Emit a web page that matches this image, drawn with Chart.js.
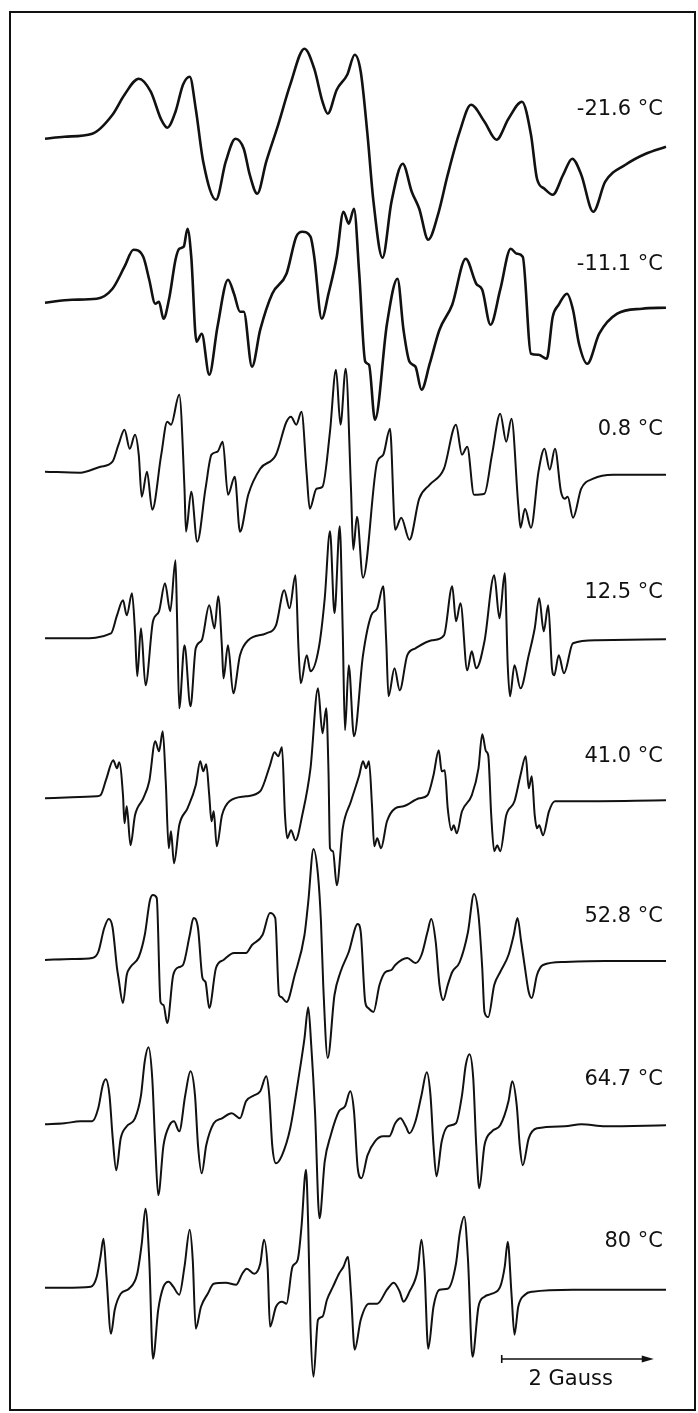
<!DOCTYPE html>
<html>
<head>
<meta charset="utf-8">
<script src="https://cdn.jsdelivr.net/npm/chart.js@4.4.1/dist/chart.umd.min.js"></script>
<style>
  body { margin: 0; background: #fff; }
  #wrap { position: relative; width: 698px; height: 1413px; }
  #frame { position: absolute; left: 9px; top: 11px; width: 687px; height: 1400px; border: 2px solid #111; box-sizing: border-box; }
  canvas { position: absolute; left: 0; top: 0; }
</style>
</head>
<body>
<div id="wrap">
  <div id="frame"></div>
  <canvas id="epr" width="698" height="1413"></canvas>
</div>
<script>
// Temperatures, top trace to bottom trace
const temperatures = ['-21.6 °C', '-11.1 °C', '0.8 °C', '12.5 °C', '41.0 °C', '52.8 °C', '64.7 °C', '80 °C'];

// Spectra: [field offset from sweep start (Gauss), derivative signal (a.u.)]
const spectrumM216 = [[0.00,-1],[0.26,1],[0.63,4],[0.90,23],[1.06,43],[1.25,59],[1.41,46],[1.55,18],[1.63,10],[1.74,26],[1.84,53],[1.93,61],[2.01,29],[2.11,-24],[2.28,-62],[2.41,-24],[2.54,-1],[2.65,-11],[2.73,-37],[2.83,-56],[2.95,-24],[3.11,13],[3.27,53],[3.46,89],[3.59,69],[3.70,36],[3.77,24],[3.89,48],[4.03,63],[4.13,83],[4.21,66],[4.30,3],[4.38,-64],[4.50,-120],[4.62,-64],[4.77,-26],[4.89,-54],[4.99,-71],[5.11,-102],[5.24,-77],[5.37,-37],[5.53,6],[5.68,33],[5.86,16],[6.02,-2],[6.18,19],[6.36,36],[6.48,3],[6.56,-41],[6.66,-51],[6.77,-57],[6.91,-37],[7.03,-21],[7.15,-37],[7.31,-74],[7.47,-44],[7.74,-27],[8.01,-16],[8.28,-9]];

const spectrumM111 = [[0.00,-1],[0.36,2],[0.69,3],[0.90,13],[1.06,35],[1.18,52],[1.31,45],[1.39,22],[1.47,-2],[1.52,0],[1.58,-17],[1.66,5],[1.74,42],[1.79,53],[1.85,55],[1.90,73],[1.95,45],[2.02,-40],[2.09,-32],[2.19,-73],[2.30,-25],[2.44,22],[2.52,8],[2.60,-10],[2.65,-10],[2.76,-65],[2.87,-28],[3.03,8],[3.22,28],[3.35,65],[3.43,70],[3.54,65],[3.59,45],[3.69,-17],[3.78,8],[3.89,45],[3.98,90],[4.05,78],[4.12,93],[4.19,28],[4.27,-60],[4.32,-63],[4.40,-118],[4.56,-22],[4.70,23],[4.78,-28],[4.86,-60],[4.94,-65],[5.02,-88],[5.13,-62],[5.26,-28],[5.43,-3],[5.61,43],[5.75,18],[5.83,12],[5.94,-23],[6.07,12],[6.21,53],[6.29,48],[6.37,45],[6.48,-52],[6.58,-53],[6.69,-57],[6.77,-15],[6.85,-3],[6.96,8],[7.04,-8],[7.12,-42],[7.23,-62],[7.39,-32],[7.63,-12],[7.96,-7],[8.28,-6]];

const spectrumP08 = [[0.00,0],[0.47,-1],[0.74,5],[0.90,10],[0.98,27],[1.06,42],[1.13,23],[1.20,37],[1.25,17],[1.29,-25],[1.36,0],[1.43,-38],[1.55,17],[1.63,50],[1.68,47],[1.79,77],[1.86,-17],[1.88,-60],[1.95,-20],[2.03,-70],[2.14,-17],[2.22,17],[2.30,20],[2.37,30],[2.44,-23],[2.53,-5],[2.60,-60],[2.71,-23],[2.87,3],[3.08,17],[3.22,50],[3.28,55],[3.35,47],[3.42,60],[3.49,-3],[3.53,-37],[3.62,-17],[3.70,-15],[3.80,40],[3.88,102],[3.94,47],[4.01,103],[4.08,-17],[4.11,-78],[4.16,-45],[4.24,-106],[4.43,10],[4.51,17],[4.60,43],[4.67,-58],[4.75,-46],[4.86,-68],[4.99,-27],[5.13,-13],[5.32,3],[5.48,47],[5.56,17],[5.63,25],[5.72,-23],[5.86,-22],[5.96,17],[6.07,58],[6.15,30],[6.22,53],[6.31,-33],[6.34,-56],[6.40,-37],[6.48,-56],[6.58,0],[6.66,23],[6.73,2],[6.80,23],[6.88,-20],[6.93,-27],[6.97,-25],[7.04,-46],[7.15,-17],[7.31,-7],[7.58,-3],[8.28,-3]];

const spectrumP125 = [[0.00,0],[0.47,0],[0.88,5],[0.96,23],[1.04,38],[1.09,23],[1.16,45],[1.20,7],[1.23,-38],[1.28,10],[1.34,-47],[1.44,17],[1.52,27],[1.60,55],[1.67,27],[1.74,78],[1.76,23],[1.79,-70],[1.86,-7],[1.94,-68],[2.01,-10],[2.09,-2],[2.19,33],[2.26,10],[2.31,42],[2.36,-10],[2.38,-40],[2.44,-7],[2.51,-55],[2.60,-17],[2.71,-2],[2.95,5],[3.08,13],[3.19,48],[3.26,30],[3.34,63],[3.38,-10],[3.41,-45],[3.49,-17],[3.54,-33],[3.65,-10],[3.73,40],[3.80,107],[3.86,25],[3.93,112],[3.97,7],[4.00,-92],[4.05,-27],[4.12,-98],[4.24,-17],[4.35,23],[4.43,30],[4.51,52],[4.55,-3],[4.58,-58],[4.66,-30],[4.73,-52],[4.83,-17],[4.94,-10],[5.16,-2],[5.32,3],[5.43,52],[5.48,17],[5.54,35],[5.63,-32],[5.69,-13],[5.75,-30],[5.86,-3],[5.99,63],[6.06,20],[6.13,65],[6.17,-27],[6.20,-58],[6.26,-27],[6.34,-50],[6.45,-17],[6.53,10],[6.59,40],[6.65,7],[6.71,33],[6.76,-30],[6.79,-37],[6.85,-17],[6.92,-35],[7.04,-5],[7.36,-2],[8.28,-1]];

const spectrumP410 = [[0.00,0],[0.36,1],[0.69,2],[0.74,3],[0.82,20],[0.91,38],[0.96,30],[0.99,36],[1.04,3],[1.06,-25],[1.09,-8],[1.14,-47],[1.20,-17],[1.31,0],[1.39,17],[1.47,57],[1.52,47],[1.57,67],[1.61,17],[1.65,-50],[1.68,-33],[1.72,-65],[1.79,-27],[1.90,-10],[2.01,13],[2.07,37],[2.11,27],[2.15,34],[2.19,3],[2.22,-23],[2.25,-13],[2.29,-48],[2.36,-17],[2.46,-3],[2.68,2],[2.87,7],[3.00,33],[3.06,46],[3.11,42],[3.16,51],[3.20,-17],[3.23,-40],[3.28,-32],[3.34,-42],[3.43,-17],[3.54,30],[3.64,110],[3.70,65],[3.75,90],[3.78,27],[3.80,-50],[3.84,-53],[3.89,-87],[3.97,-30],[4.08,-3],[4.19,23],[4.24,37],[4.28,30],[4.32,37],[4.36,-7],[4.39,-48],[4.43,-40],[4.48,-50],[4.56,-23],[4.67,-10],[4.78,-8],[4.99,0],[5.10,3],[5.18,23],[5.25,48],[5.29,27],[5.33,28],[5.37,-10],[5.42,-32],[5.45,-27],[5.49,-35],[5.56,-13],[5.69,3],[5.78,30],[5.83,64],[5.88,47],[5.91,43],[5.95,-17],[5.99,-53],[6.03,-47],[6.07,-53],[6.15,-17],[6.26,-3],[6.34,23],[6.41,42],[6.45,10],[6.49,22],[6.53,-17],[6.56,-30],[6.59,-27],[6.64,-37],[6.72,-13],[6.80,-3],[7.04,-3],[8.28,-2]];

const spectrumP528 = [[0.00,0],[0.36,1],[0.63,2],[0.71,8],[0.79,32],[0.85,41],[0.90,33],[0.96,-8],[0.98,-18],[1.04,-43],[1.09,-15],[1.14,-7],[1.25,3],[1.33,25],[1.40,60],[1.44,65],[1.49,62],[1.54,-42],[1.58,-45],[1.63,-63],[1.71,-15],[1.79,-7],[1.84,-5],[1.93,25],[1.98,42],[2.04,32],[2.10,-18],[2.14,-22],[2.19,-48],[2.28,-8],[2.38,0],[2.52,7],[2.68,7],[2.76,15],[2.90,25],[3.00,47],[3.07,42],[3.12,-35],[3.15,-37],[3.22,-42],[3.33,-15],[3.46,25],[3.51,58],[3.58,111],[3.64,85],[3.68,38],[3.71,-25],[3.77,-98],[3.86,-35],[3.94,-12],[4.05,8],[4.17,36],[4.21,28],[4.27,-42],[4.31,-48],[4.38,-52],[4.46,-25],[4.54,-12],[4.62,-10],[4.67,-5],[4.83,2],[4.94,-3],[5.02,5],[5.10,28],[5.15,41],[5.21,18],[5.26,-25],[5.31,-40],[5.37,-25],[5.43,-12],[5.53,-2],[5.64,28],[5.72,66],[5.78,45],[5.83,-8],[5.86,-52],[5.91,-57],[5.99,-25],[6.07,-12],[6.18,5],[6.25,25],[6.30,42],[6.35,18],[6.40,-8],[6.45,-32],[6.49,-38],[6.56,-15],[6.64,-5],[6.93,-2],[7.47,-1],[8.28,-1]];

const spectrumP647 = [[0.00,0],[0.26,1],[0.47,3],[0.63,3],[0.71,16],[0.77,39],[0.81,45],[0.86,29],[0.90,-11],[0.95,-46],[1.01,-14],[1.09,-2],[1.20,6],[1.28,29],[1.33,63],[1.38,77],[1.43,46],[1.47,-21],[1.51,-71],[1.58,-21],[1.66,-1],[1.72,3],[1.79,-7],[1.87,29],[1.94,53],[2.00,29],[2.04,-21],[2.09,-49],[2.15,-21],[2.25,1],[2.36,6],[2.49,11],[2.60,6],[2.68,23],[2.79,29],[2.87,33],[2.95,48],[2.99,29],[3.03,-21],[3.08,-39],[3.16,-31],[3.27,-4],[3.38,46],[3.46,86],[3.51,117],[3.55,79],[3.60,13],[3.66,-94],[3.73,-37],[3.81,-11],[3.92,13],[4.00,18],[4.07,33],[4.12,13],[4.17,-44],[4.22,-54],[4.30,-31],[4.40,-17],[4.51,-12],[4.59,-12],[4.67,1],[4.74,6],[4.81,-2],[4.86,-9],[4.94,3],[5.02,29],[5.09,52],[5.14,29],[5.18,-21],[5.22,-52],[5.29,-17],[5.37,-2],[5.48,1],[5.56,29],[5.61,59],[5.66,70],[5.71,46],[5.75,-21],[5.79,-64],[5.86,-21],[5.96,-7],[6.07,-1],[6.18,23],[6.23,43],[6.29,19],[6.33,-21],[6.37,-41],[6.45,-14],[6.56,-4],[6.93,-2],[7.15,0],[7.47,-2],[8.28,-1]];

const spectrumP80 = [[0.00,0],[0.26,0],[0.61,1],[0.69,11],[0.74,31],[0.78,49],[0.82,11],[0.88,-46],[0.93,-22],[1.01,-6],[1.12,-1],[1.23,14],[1.29,44],[1.34,79],[1.39,28],[1.44,-71],[1.51,-22],[1.58,1],[1.65,6],[1.71,1],[1.79,-7],[1.86,21],[1.93,58],[1.97,28],[2.01,-41],[2.08,-19],[2.17,-6],[2.25,4],[2.41,5],[2.55,3],[2.63,14],[2.69,19],[2.79,14],[2.87,24],[2.92,48],[2.97,18],[3.00,-39],[3.08,-19],[3.16,-14],[3.22,-16],[3.30,21],[3.37,28],[3.42,61],[3.48,118],[3.51,61],[3.54,-39],[3.58,-89],[3.64,-32],[3.70,-29],[3.76,-12],[3.84,1],[3.92,14],[3.98,21],[4.04,31],[4.08,-6],[4.13,-62],[4.21,-32],[4.32,-16],[4.43,-16],[4.56,-2],[4.65,5],[4.73,-4],[4.78,-14],[4.86,-4],[4.97,18],[5.02,48],[5.06,18],[5.11,-61],[5.18,-19],[5.26,-2],[5.37,-1],[5.48,24],[5.53,54],[5.59,71],[5.64,28],[5.70,-69],[5.78,-19],[5.86,-9],[5.96,-6],[6.07,1],[6.13,21],[6.17,46],[6.22,-6],[6.26,-47],[6.31,-19],[6.40,-7],[6.50,-4],[7.04,-2],[7.47,-2],[8.28,-2]];

const spectra = [spectrumM216, spectrumM111, spectrumP08, spectrumP125, spectrumP410, spectrumP528, spectrumP647, spectrumP80];

// Scale bar length in Gauss
const scaleBarGauss = 2;

// Layout (figure units: 1 a.u. of signal = 1 unit of vertical stacking)
const baselines = [137.7, 301.7, 471.7, 638.3, 798.3, 960, 1124.3, 1287.7];
const labelLift = [23, 32, 37, 40, 36, 38, 39, 41];
const lineWidths = [2.6, 2.6, 2, 2, 2, 2, 2, 2];
const fieldMin = -0.6, fieldMax = 8.707;
const labelField = 8.24;
const scaleBarStart = 6.09, scaleBarLevel = 1359, scaleBarTextLevel = 1385;
const ink = '#111';

const datasets = spectra.map((pts, i) => ({
    label: temperatures[i],
    data: pts.map(p => ({ x: p[0], y: baselines[i] - p[1] })),
    borderColor: ink,
    borderWidth: lineWidths[i],
    pointRadius: 0,
    fill: false,
    cubicInterpolationMode: 'monotone',
    clip: false
}));

// Draws temperature labels and the 2 Gauss scale bar
const annotations = {
    id: 'annotations',
    afterDatasetsDraw(chart) {
        const { ctx } = chart;
        const x = chart.scales.x, y = chart.scales.y;
        ctx.save();
        ctx.fillStyle = ink;
        ctx.strokeStyle = ink;
        ctx.font = '21px "DejaVu Sans"';
        ctx.textAlign = 'right';
        ctx.textBaseline = 'alphabetic';
        temperatures.forEach((t, i) => {
            ctx.fillText(t, x.getPixelForValue(labelField), y.getPixelForValue(baselines[i] - labelLift[i]));
        });

        const x0 = x.getPixelForValue(scaleBarStart);
        const x1 = x.getPixelForValue(scaleBarStart + scaleBarGauss);
        const yb = y.getPixelForValue(scaleBarLevel);
        ctx.lineWidth = 1.6;
        ctx.beginPath();
        ctx.moveTo(x0, yb);
        ctx.lineTo(x1 - 8, yb);
        ctx.moveTo(x0, yb - 4);
        ctx.lineTo(x0, yb + 4);
        ctx.stroke();
        ctx.beginPath();
        ctx.moveTo(x1 + 2, yb);
        ctx.lineTo(x1 - 10, yb - 3.5);
        ctx.lineTo(x1 - 10, yb + 3.5);
        ctx.closePath();
        ctx.fill();

        ctx.textAlign = 'center';
        ctx.fillText(scaleBarGauss + ' Gauss', x.getPixelForValue(scaleBarStart + 0.92), y.getPixelForValue(scaleBarTextLevel));
        ctx.restore();
    }
};

new Chart(document.getElementById('epr').getContext('2d'), {
    type: 'line',
    data: { datasets },
    options: {
        responsive: false,
        animation: false,
        layout: { padding: 0 },
        plugins: { legend: { display: false }, tooltip: { enabled: false } },
        scales: {
            x: { type: 'linear', min: fieldMin, max: fieldMax, display: false },
            y: { type: 'linear', min: 0, max: 1413, reverse: true, display: false }
        }
    },
    plugins: [annotations]
});
</script>
</body>
</html>
